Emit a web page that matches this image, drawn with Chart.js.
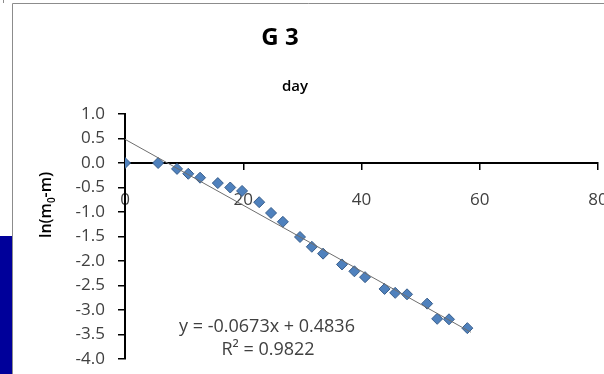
<!DOCTYPE html>
<html>
<head>
<meta charset="utf-8">
<script src="https://cdn.jsdelivr.net/npm/chart.js@4.4.1/dist/chart.umd.min.js"></script>
<style>
  html, body { margin: 0; padding: 0; background: #fff; }
  #wrap { width: 604px; height: 374px; position: relative; }
</style>
</head>
<body>
<div id="wrap"><canvas id="g3"></canvas></div>
<script>
// days and ln(m0 - m)
const days = [0, 5.6, 8.8, 10.7, 12.7, 15.7, 17.8, 19.8, 22.7, 24.7, 26.7, 29.6, 31.6, 33.5,
              36.7, 38.8, 40.6, 43.9, 45.7, 47.7, 51.1, 52.8, 54.8, 57.9];
const lnValues = [0, 0, -0.12, -0.22, -0.30, -0.41, -0.50, -0.57, -0.80, -1.02, -1.20, -1.51, -1.71, -1.85,
                  -2.07, -2.21, -2.33, -2.57, -2.65, -2.68, -2.87, -3.18, -3.19, -3.37];
// linear trendline as printed on the chart
const slope = -0.0673;
const intercept = 0.4836;
const trendDays = [0, 58.5];
const yTicks = [-4, -3.5, -3, -2.5, -2, -1.5, -1, -0.5, 0, 0.5, 1];
const xTicks = [0, 20, 40, 60, 80];

const points = days.map((d, i) => ({ x: d, y: lnValues[i] }));
const trend = trendDays.map(d => ({ x: d, y: slope * d + intercept }));

const FONT = '"Open Sans", "DejaVu Sans", sans-serif';

const decor = {
    id: 'decor',
    beforeDraw(chart) {
        const c = chart.ctx;
        c.save();
        c.fillStyle = '#00009a';
        c.fillRect(0, 236, 12, 138);
        c.strokeStyle = '#8c8c8c';
        c.lineWidth = 1;
        c.beginPath();
        c.moveTo(12.5, 374);
        c.lineTo(12.5, 3.5);
        c.lineTo(604, 3.5);
        c.moveTo(3.5, 0);
        c.lineTo(3.5, 3);
        c.stroke();
        c.restore();
    },
    afterDraw(chart) {
        const c = chart.ctx;
        c.save();
        c.fillStyle = '#000';
        c.textAlign = 'center';
        c.textBaseline = 'alphabetic';
        c.font = 'bold 24px ' + FONT;
        c.fillText('G 3', 280, 45);
        c.font = '600 15px ' + FONT;
        c.fillText('day', 295, 91);

        // y axis title with subscript
        c.translate(51, 205);
        c.rotate(-Math.PI / 2);
        const big = '600 16px ' + FONT;
        const small = '600 10px ' + FONT;
        const parts = [['ln(m', big, 0], ['0', small, 4], ['-m)', big, 0]];
        let total = 0;
        parts.forEach(p => { c.font = p[1]; total += c.measureText(p[0]).width; });
        let x = -total / 2;
        c.textAlign = 'left';
        parts.forEach(p => {
            c.font = p[1];
            c.fillText(p[0], x, p[2]);
            x += c.measureText(p[0]).width;
        });
        c.restore();

        // trendline equation
        c.save();
        c.fillStyle = '#404040';
        c.textAlign = 'center';
        c.font = '18px ' + FONT;
        c.fillText('y = ' + slope.toFixed(4) + 'x + ' + intercept.toFixed(4), 267, 332);
        c.fillText('R² = 0.9822', 268, 355);
        c.restore();
    }
};

const noPad = s => { s.paddingLeft = 0; s.paddingRight = 0; s.paddingTop = 0; s.paddingBottom = 0; };

new Chart(document.getElementById('g3'), {
    type: 'scatter',
    data: {
        datasets: [{
            label: 'trend',
            type: 'line',
            data: trend,
            borderColor: '#6e6e6e',
            borderWidth: 1,
            pointRadius: 0,
            fill: false,
            order: 0
        }, {
            label: 'G 3',
            data: points,
            pointStyle: 'rectRot',
            pointRadius: 5.5,
            backgroundColor: '#4f81bd',
            borderColor: '#385d8a',
            borderWidth: 1,
            order: 1
        }]
    },
    options: {
        responsive: true,
        maintainAspectRatio: false,
        animation: false,
        layout: {
            autoPadding: false,
            padding: { left: 0, top: 114, right: 6, bottom: 15 }
        },
        plugins: {
            legend: { display: false },
            title: { display: false },
            tooltip: { enabled: false }
        },
        scales: {
            x: {
                type: 'linear',
                position: { y: 0 },
                min: 0,
                max: 80,
                afterBuildTicks: s => { s.ticks = xTicks.map(v => ({ value: v })); },
                afterFit: noPad,
                grid: { drawOnChartArea: false, drawTicks: true, tickLength: 6, color: '#000', lineWidth: 1.5 },
                border: { display: true, color: '#000', width: 2 },
                ticks: { color: '#404040', font: { family: FONT, size: 17 }, padding: 21, maxRotation: 0 }
            },
            y: {
                type: 'linear',
                position: 'left',
                min: -4,
                max: 1,
                afterBuildTicks: s => { s.ticks = yTicks.map(v => ({ value: v })); },
                afterFit: s => { s.width = 125; noPad(s); },
                grid: { drawOnChartArea: false, drawTicks: true, tickLength: 7, color: '#000', lineWidth: 1.5 },
                border: { display: true, color: '#000', width: 2 },
                ticks: {
                    color: '#404040',
                    font: { family: FONT, size: 17 },
                    padding: 13,
                    callback: v => v.toFixed(1)
                }
            }
        }
    },
    plugins: [decor]
});
</script>
</body>
</html>
